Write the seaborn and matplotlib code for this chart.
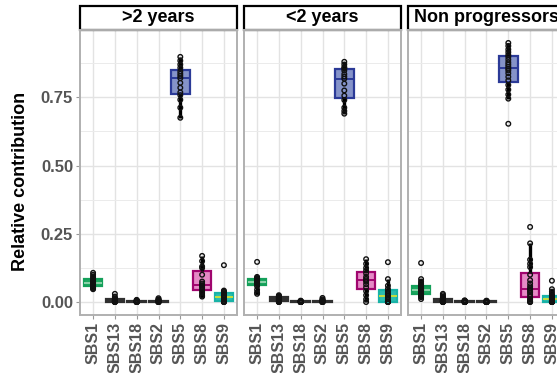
import numpy as np
import pandas as pd
import matplotlib
matplotlib.use("Agg")
import matplotlib.pyplot as plt
from matplotlib.patches import Rectangle
from matplotlib.ticker import MultipleLocator, FormatStrFormatter
import seaborn as sns

signatures = ["SBS1", "SBS13", "SBS18", "SBS2", "SBS5", "SBS8", "SBS9"]
groups = [">2 years", "<2 years", "Non progressors"]

# >2 years
gt2_sbs1 = [0.047, 0.050, 0.053, 0.055, 0.060, 0.064, 0.068, 0.070, 0.073, 0.077, 0.082, 0.088, 0.093, 0.100, 0.107]
gt2_sbs13 = [0, 0, 0, 0.001, 0.002, 0.003, 0.004, 0.005, 0.006, 0.008, 0.010, 0.012, 0.014, 0.020, 0.030]
gt2_sbs18 = [0, 0, 0, 0, 0, 0.001, 0.001, 0.002, 0.002, 0.003, 0.003, 0.004, 0.005, 0.006, 0.008]
gt2_sbs2 = [0, 0, 0, 0, 0.001, 0.001, 0.002, 0.002, 0.003, 0.004, 0.005, 0.006, 0.008, 0.010, 0.014]
gt2_sbs5 = [0.675, 0.712, 0.741, 0.758, 0.768, 0.785, 0.803, 0.820, 0.828, 0.836, 0.845, 0.858, 0.870, 0.884, 0.898]
gt2_sbs8 = [0.020, 0.025, 0.033, 0.040, 0.048, 0.055, 0.060, 0.062, 0.068, 0.075, 0.100, 0.125, 0.130, 0.150, 0.169]
gt2_sbs9 = [0, 0, 0, 0.002, 0.005, 0.010, 0.015, 0.020, 0.022, 0.025, 0.030, 0.035, 0.038, 0.042, 0.135]

# <2 years
lt2_sbs1 = [0.030, 0.035, 0.045, 0.058, 0.065, 0.068, 0.072, 0.075, 0.077, 0.079, 0.082, 0.086, 0.088, 0.092, 0.147]
lt2_sbs13 = [0, 0, 0.001, 0.002, 0.004, 0.006, 0.008, 0.010, 0.012, 0.014, 0.016, 0.018, 0.020, 0.022, 0.025]
lt2_sbs18 = [0, 0, 0, 0, 0, 0, 0.001, 0.001, 0.001, 0.002, 0.002, 0.003, 0.003, 0.004, 0.005]
lt2_sbs2 = [0, 0, 0, 0, 0.001, 0.001, 0.002, 0.002, 0.003, 0.003, 0.004, 0.005, 0.007, 0.010, 0.015]
lt2_sbs5 = [0.690, 0.700, 0.712, 0.740, 0.756, 0.775, 0.800, 0.818, 0.826, 0.835, 0.848, 0.856, 0.860, 0.870, 0.880]
lt2_sbs8 = [0, 0.010, 0.025, 0.040, 0.054, 0.065, 0.075, 0.080, 0.085, 0.092, 0.105, 0.115, 0.125, 0.140, 0.157]
lt2_sbs9 = [0, 0, 0, 0.001, 0.002, 0.010, 0.018, 0.023, 0.028, 0.033, 0.040, 0.048, 0.060, 0.084, 0.146]

# Non progressors
np_sbs1 = [0.011, 0.018, 0.022, 0.026, 0.028, 0.032, 0.036, 0.040, 0.043, 0.044,
           0.046, 0.048, 0.051, 0.054, 0.057, 0.062, 0.068, 0.075, 0.084, 0.143]
np_sbs13 = [0, 0, 0, 0, 0.001, 0.002, 0.003, 0.004, 0.005, 0.006,
            0.007, 0.008, 0.009, 0.010, 0.012, 0.014, 0.016, 0.020, 0.025, 0.030]
np_sbs18 = [0, 0, 0, 0, 0, 0, 0, 0, 0.001, 0.001,
            0.001, 0.002, 0.002, 0.002, 0.003, 0.003, 0.004, 0.004, 0.005, 0.006]
np_sbs2 = [0, 0, 0, 0, 0, 0, 0, 0, 0, 0.001,
           0.001, 0.001, 0.001, 0.002, 0.002, 0.002, 0.003, 0.003, 0.004, 0.005]
np_sbs5 = [0.653, 0.745, 0.760, 0.778, 0.795, 0.812, 0.825, 0.838, 0.848, 0.855,
           0.862, 0.870, 0.878, 0.888, 0.898, 0.905, 0.915, 0.925, 0.938, 0.949]
np_sbs8 = [0, 0, 0.003, 0.008, 0.012, 0.020, 0.028, 0.035, 0.040, 0.045,
           0.050, 0.058, 0.068, 0.080, 0.100, 0.128, 0.140, 0.155, 0.215, 0.275]
np_sbs9 = [0, 0, 0, 0, 0, 0.001, 0.003, 0.005, 0.007, 0.009,
           0.011, 0.013, 0.015, 0.018, 0.022, 0.025, 0.030, 0.038, 0.047, 0.078]

edge_colors = ["#14A05A", "#303030", "#303030", "#303030", "#2B3A97", "#A0056E", "#19B3A7"]
fill_colors = ["#1DA75F", "#333333", "#333333", "#333333", "#8593C9", "#E58AC6", "#2DBDB0"]
median_colors = ["#8ED3AB", "#303030", "#303030", "#303030", "#2B3A97", "#A0056E", "#C9DE3A"]

panel_values = [
    [gt2_sbs1, gt2_sbs13, gt2_sbs18, gt2_sbs2, gt2_sbs5, gt2_sbs8, gt2_sbs9],
    [lt2_sbs1, lt2_sbs13, lt2_sbs18, lt2_sbs2, lt2_sbs5, lt2_sbs8, lt2_sbs9],
    [np_sbs1, np_sbs13, np_sbs18, np_sbs2, np_sbs5, np_sbs8, np_sbs9],
]

rows = []
for g, vals in zip(groups, panel_values):
    for s, v in zip(signatures, vals):
        for x in v:
            rows.append((g, s, x))
df = pd.DataFrame(rows, columns=["group", "signature", "value"])

sns.set_theme(style="white")
plt.rcParams["font.family"] = ["Liberation Sans", "DejaVu Sans"]
plt.rcParams["font.weight"] = "bold"

W, H = 557, 373
fig = plt.figure(figsize=(W / 100, H / 100), dpi=100)
top_px, bot_px = 30, 315
lefts = [80, 244, 408]
pw = 157
strip_h = 24 / (bot_px - top_px)

axes = []
for i, (g, lx) in enumerate(zip(groups, lefts)):
    ax = fig.add_axes([lx / W, 1 - bot_px / H, pw / W, (bot_px - top_px) / H])
    axes.append(ax)
    sub = df[df["group"] == g]
    for j, s in enumerate(signatures):
        sns.boxplot(data=sub[sub["signature"] == s], x="signature", y="value",
                    order=signatures, ax=ax, width=0.85, color=fill_colors[j],
                    linecolor=edge_colors[j], linewidth=1.6, saturation=1,
                    showcaps=False, showfliers=False,
                    whiskerprops=dict(color="black", linewidth=2.4),
                    medianprops=dict(color=median_colors[j], linewidth=1.4))
    sns.stripplot(data=sub, x="signature", y="value", order=signatures, ax=ax,
                  jitter=False, size=3.3, color="black", linewidth=1.0, zorder=4)
    for coll in ax.collections:
        coll.set_facecolor("none")
        coll.set_edgecolor("#111111")

    ax.set_xlim(-0.6, 6.6)
    ax.set_ylim(-0.0475, 0.9965)
    ax.yaxis.set_major_locator(MultipleLocator(0.25))
    ax.yaxis.set_minor_locator(MultipleLocator(0.125))
    ax.yaxis.set_major_formatter(FormatStrFormatter("%.2f"))
    ax.grid(which="major", color="#E3E3E3", linewidth=1.0)
    ax.grid(which="minor", axis="y", color="#EBEBEB", linewidth=0.7)
    ax.set_axisbelow(True)
    ax.set_xlabel("")
    ax.set_ylabel("")
    for sp in ax.spines.values():
        sp.set_color("#B0B0B0")
        sp.set_linewidth(1.4)
    ax.tick_params(axis="x", rotation=90, labelsize=11.5, labelcolor="#555555",
                   length=3, width=0.8, color="#999999", pad=2, bottom=True)
    ax.tick_params(axis="y", labelsize=12, labelcolor="#555555",
                   length=3, width=0.8, color="#999999", pad=2, left=(i == 0),
                   labelleft=(i == 0))
    ax.tick_params(which="minor", left=False, bottom=False)
    for lab in ax.get_xticklabels() + ax.get_yticklabels():
        lab.set_fontweight("bold")

    ax.add_patch(Rectangle((0, 1), 1, strip_h, transform=ax.transAxes,
                           facecolor="white", edgecolor="black", linewidth=1.6,
                           clip_on=False))
    ax.text(0.5, 1 + strip_h / 2, g, transform=ax.transAxes, ha="center",
            va="center", fontsize=13, fontweight="bold", color="black")

fig.text(21 / W, 1 - 181 / H, "Relative contribution", rotation=90,
         ha="center", va="center", fontsize=13, fontweight="bold", color="black")

fig.savefig("out.png", dpi=100)
